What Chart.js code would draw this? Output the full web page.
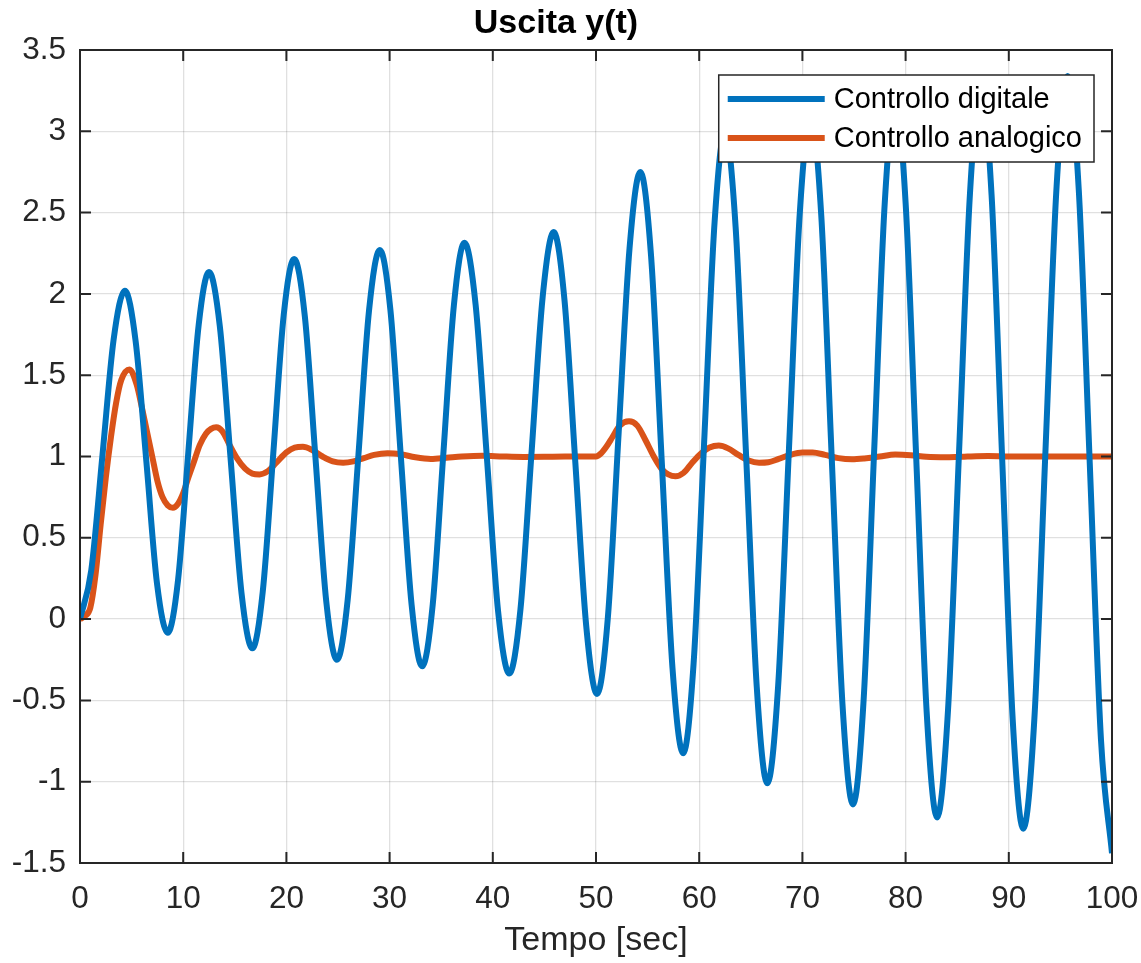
<!DOCTYPE html>
<html>
<head>
<meta charset="utf-8">
<script src="https://cdn.jsdelivr.net/npm/chart.js@4.4.0/dist/chart.umd.min.js"></script>
<style>
  body { margin: 0; background: #fff; }
  #wrap { width: 1141px; height: 963px; }
</style>
</head>
<body>
<div id="wrap"><canvas id="myChart" width="1141" height="963"></canvas></div>
<script>
// Controllo digitale (tempo, uscita)
const tempoDigitale = [0,
  1.09, 2.18, 3.26, 4.35, 5.39, 6.43, 7.46, 8.5, 9.5, 10.5, 11.5, 12.5,
  13.55, 14.6, 15.65, 16.7, 17.71, 18.73, 19.74, 20.75, 21.79, 22.83, 23.86, 24.9,
  25.94, 26.98, 28.01, 29.05, 30.08, 31.1, 32.13, 33.15, 34.18, 35.2, 36.23, 37.25,
  38.34, 39.43, 40.51, 41.6, 42.68, 43.75, 44.83, 45.9, 46.95, 48.0, 49.05, 50.1,
  51.15, 52.2, 53.25, 54.3, 55.34, 56.38, 57.41, 58.45, 59.46, 60.48, 61.49, 62.5,
  63.53, 64.55, 65.58, 66.6, 67.65, 68.7, 69.75, 70.8, 71.83, 72.85, 73.88, 74.9,
  75.93, 76.95, 77.98, 79.0, 80.01, 81.03, 82.04, 83.05, 84.11, 85.18, 86.24, 87.3,
  88.33, 89.35, 90.38, 91.4, 92.48, 93.55, 94.63, 95.7, 96.78, 97.85, 98.93, 100];
const yDigitale = [0,
  0.30, 1.01, 1.72, 2.02, 1.71, 0.97, 0.22, -0.084, 0.24, 1.03, 1.81, 2.135,
  1.80, 0.98, 0.16, -0.18, 0.17, 1.02, 1.87, 2.215, 1.86, 0.98, 0.11, -0.25,
  0.12, 1.01, 1.90, 2.27, 1.90, 0.99, 0.09, -0.29, 0.09, 1.01, 1.93, 2.315,
  1.93, 0.99, 0.05, -0.335, 0.06, 1.02, 1.98, 2.38, 1.96, 0.96, -0.04, -0.46,
  0.01, 1.15, 2.28, 2.75, 2.23, 0.96, -0.30, -0.825, -0.27, 1.09, 2.44, 3.0,
  2.41, 1.0, -0.42, -1.01, -0.41, 1.05, 2.50, 3.1, 2.48, 0.98, -0.52, -1.14,
  -0.50, 1.03, 2.56, 3.2, 2.55, 0.99, -0.57, -1.22, -0.56, 1.03, 2.62, 3.28,
  2.61, 1.0, -0.62, -1.29, -0.61, 1.03, 2.66, 3.34, 2.64, 0.95, -0.74, -1.44];

// Controllo analogico (tempo, uscita)
const tempoAnalogico = [0, 0.5, 1, 1.5, 2, 2.5, 3, 3.5, 4, 4.8, 5.5, 6, 6.5, 7, 7.5, 8, 8.5, 9, 9.5, 10,
  10.5, 11, 11.6, 12.2, 12.7, 13.2, 13.8, 14.5, 15.2, 16, 16.7, 17.4, 18.2, 19, 20, 20.8, 21.6, 22.5, 23.5, 24.5,
  25.5, 26.5, 27.5, 28.5, 29.8, 31, 32.5, 34, 35.5, 37, 39, 41, 43, 45, 47, 50, 50.5, 51, 51.6, 52.3,
  53.2, 54, 54.8, 55.6, 56.4, 57, 57.7, 58.5, 59.3, 60.2, 61, 61.9, 62.8, 63.8, 64.8, 65.8, 66.7, 67.7, 68.8, 70,
  71, 72.2, 73.5, 74.8, 76, 77.5, 79, 80.5, 82, 84, 86, 88, 90, 95, 100];
const yAnalogico = [0, 0.02, 0.07, 0.27, 0.58, 0.87, 1.12, 1.33, 1.47, 1.535, 1.44, 1.3, 1.15, 1.0, 0.85, 0.75, 0.7, 0.685, 0.71, 0.775,
  0.87, 0.96, 1.07, 1.14, 1.17, 1.18, 1.155, 1.07, 0.99, 0.925, 0.895, 0.89, 0.91, 0.96, 1.025, 1.055, 1.06, 1.04, 1.0, 0.97,
  0.962, 0.97, 0.99, 1.01, 1.02, 1.015, 0.995, 0.985, 0.992, 1.0, 1.005, 1.0, 0.997, 0.998, 1.0, 1.0, 1.02, 1.06, 1.12, 1.19,
  1.217, 1.19, 1.1, 1.0, 0.92, 0.89, 0.878, 0.9, 0.96, 1.02, 1.055, 1.067, 1.05, 1.01, 0.975, 0.962, 0.965, 0.985, 1.01, 1.025,
  1.025, 1.01, 0.99, 0.983, 0.988, 1.0, 1.012, 1.008, 0.998, 0.995, 1.0, 1.003, 1.0, 1.0, 1.0];

const font = "'Liberation Sans', Arial, Helvetica, sans-serif";
const axisColor = "#262626";

function toPoints(xs, ys) {
  return xs.map((x, i) => ({ x: x, y: ys[i] }));
}

// box + tacche verso l'interno, stile MATLAB
const boxPlugin = {
  id: "boxPlugin",
  afterDatasetsDraw(chart) {
    const ctx = chart.ctx;
    const a = chart.chartArea;
    const sx = chart.scales.x;
    const sy = chart.scales.y;
    const len = 11;
    ctx.save();
    ctx.strokeStyle = axisColor;
    ctx.lineWidth = 2;
    ctx.beginPath();
    sx.ticks.forEach((t) => {
      let px = sx.getPixelForValue(t.value);
      ctx.moveTo(px, a.bottom);
      ctx.lineTo(px, a.bottom - len);
      ctx.moveTo(px, a.top);
      ctx.lineTo(px, a.top + len);
    });
    sy.ticks.forEach((t) => {
      let py = sy.getPixelForValue(t.value);
      ctx.moveTo(a.left, py);
      ctx.lineTo(a.left + len, py);
      ctx.moveTo(a.right, py);
      ctx.lineTo(a.right - len, py);
    });
    ctx.stroke();
    ctx.strokeRect(a.left, a.top, a.right - a.left, a.bottom - a.top);
    ctx.restore();
  },
};

// legenda dentro al grafico, in alto a destra
const legendPlugin = {
  id: "legendPlugin",
  afterDraw(chart) {
    const ctx = chart.ctx;
    const a = chart.chartArea;
    const sets = chart.data.datasets;
    ctx.save();
    ctx.font = "29px " + font;
    let textW = 0;
    sets.forEach((d) => { textW = Math.max(textW, ctx.measureText(d.label).width); });
    const w = 9 + 97 + 9 + textW + 12;
    const h = 87;
    const x0 = a.right - 18 - w;
    const y0 = a.top + 25;
    ctx.fillStyle = "#fff";
    ctx.fillRect(x0, y0, w, h);
    ctx.strokeStyle = "#262626";
    ctx.lineWidth = 1.5;
    ctx.strokeRect(x0, y0, w, h);
    sets.forEach((d, i) => {
      let yy = y0 + 24 + i * 39;
      ctx.strokeStyle = d.borderColor;
      ctx.lineWidth = d.borderWidth;
      ctx.beginPath();
      ctx.moveTo(x0 + 9, yy);
      ctx.lineTo(x0 + 106, yy);
      ctx.stroke();
      ctx.fillStyle = "#000";
      ctx.textBaseline = "middle";
      ctx.textAlign = "left";
      ctx.fillText(d.label, x0 + 115, yy + 1);
    });
    ctx.restore();
  },
};

new Chart("myChart", {
  type: "line",
  data: {
    datasets: [
      {
        label: "Controllo digitale",
        data: toPoints(tempoDigitale, yDigitale),
        borderColor: "#0072BD",
        borderWidth: 6,
        pointRadius: 0,
        cubicInterpolationMode: "monotone",
        fill: false,
      },
      {
        label: "Controllo analogico",
        data: toPoints(tempoAnalogico, yAnalogico),
        borderColor: "#D95319",
        borderWidth: 6,
        pointRadius: 0,
        cubicInterpolationMode: "monotone",
        fill: false,
      },
    ],
  },
  options: {
    responsive: false,
    animation: false,
    layout: { padding: { left: 0, right: 29, top: 0, bottom: 0 } },
    plugins: {
      legend: { display: false },
      tooltip: { enabled: false },
      title: {
        display: true,
        text: "Uscita y(t)",
        color: "#000",
        font: { family: font, size: 34, weight: "bold" },
        padding: { top: 3, bottom: 6.2 },
      },
    },
    scales: {
      x: {
        type: "linear",
        min: 0,
        max: 100,
        ticks: { stepSize: 10, color: axisColor, font: { family: font, size: 31.5 }, padding: 17, maxRotation: 0 },
        grid: { color: "rgba(0,0,0,0.12)", lineWidth: 1.3, drawTicks: false },
        border: { display: false },
        title: {
          display: true,
          text: "Tempo [sec]",
          color: axisColor,
          font: { family: font, size: 34 },
          padding: { top: 0, bottom: 2 },
        },
        afterFit(scale) {
          scale.height = 100;
          scale.paddingLeft = 0;
          scale.paddingRight = 0;
        },
      },
      y: {
        min: -1.5,
        max: 3.5,
        ticks: {
          stepSize: 0.5,
          color: axisColor,
          font: { family: font, size: 31.5 },
          padding: 14,
          callback: (v) => String(Number(v.toFixed(1))),
        },
        grid: { color: "rgba(0,0,0,0.12)", lineWidth: 1.3, drawTicks: false },
        border: { display: false },
        afterFit(scale) {
          scale.width = 80;
          scale.paddingTop = 0;
          scale.paddingBottom = 0;
        },
      },
    },
  },
  plugins: [boxPlugin, legendPlugin],
});
</script>
</body>
</html>
